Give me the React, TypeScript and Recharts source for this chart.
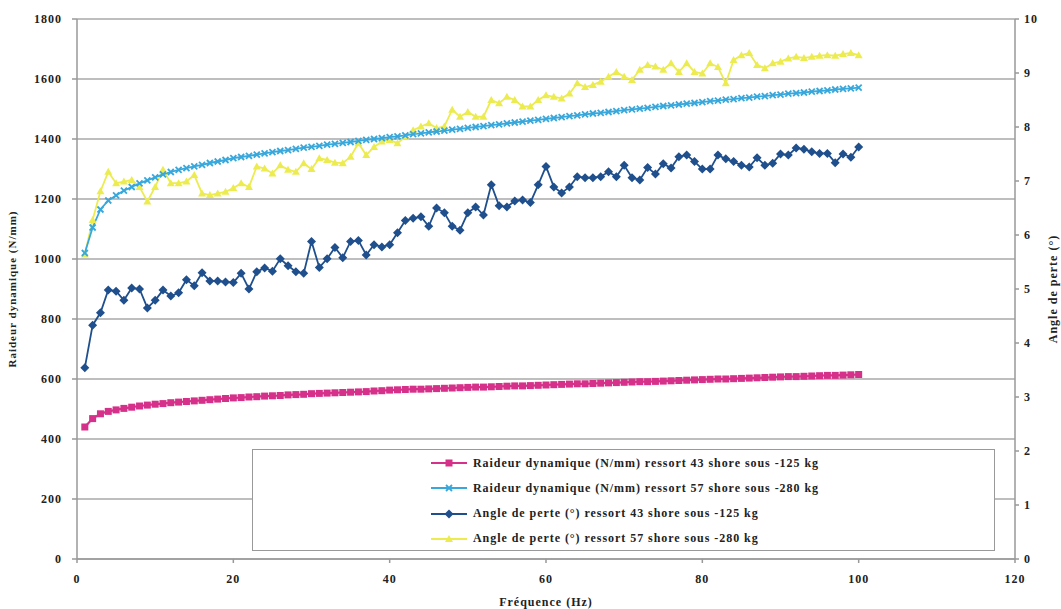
import React from 'react';
import { CartesianGrid, Line, LineChart, XAxis, YAxis } from 'recharts';

// Fréquence (Hz)
const frequencies = [
  1, 2, 3, 4, 5, 6, 7, 8, 9, 10, 11, 12, 13, 14, 15, 16, 17, 18, 19, 20,
  21, 22, 23, 24, 25, 26, 27, 28, 29, 30, 31, 32, 33, 34, 35, 36, 37, 38, 39, 40,
  41, 42, 43, 44, 45, 46, 47, 48, 49, 50, 51, 52, 53, 54, 55, 56, 57, 58, 59, 60,
  61, 62, 63, 64, 65, 66, 67, 68, 69, 70, 71, 72, 73, 74, 75, 76, 77, 78, 79, 80,
  81, 82, 83, 84, 85, 86, 87, 88, 89, 90, 91, 92, 93, 94, 95, 96, 97, 98, 99, 100,
];

// Raideur dynamique (N/mm), ressort 43 shore sous -125 kg
const raideur43 = [
  440, 468, 484, 492, 497, 502, 506, 510, 513, 516, 518, 521, 523, 525, 527, 529, 531, 533, 535, 537,
  538, 540, 541, 543, 544, 545, 547, 548, 549, 551, 552, 553, 554, 555, 556, 557, 558, 560, 561, 563,
  564, 565, 566, 566, 567, 568, 569, 570, 571, 572, 573, 573, 574, 575, 576, 577, 577, 578, 579, 580,
  581, 582, 583, 584, 584, 585, 586, 587, 588, 589, 590, 591, 591, 592, 593, 594, 595, 596, 597, 598,
  599, 600, 600, 601, 602, 603, 604, 605, 606, 607, 608, 608, 609, 610, 611, 612, 612, 613, 614, 615,
];

// Raideur dynamique (N/mm), ressort 57 shore sous -280 kg
const raideur57 = [
  1020, 1105, 1165, 1195, 1212, 1228, 1240, 1252, 1262, 1272, 1282, 1290, 1297, 1303, 1309, 1314, 1320, 1325, 1330, 1336,
  1340, 1344, 1348, 1352, 1356, 1360, 1363, 1367, 1371, 1374, 1377, 1381, 1384, 1387, 1390, 1394, 1397, 1400, 1403, 1406,
  1409, 1412, 1416, 1419, 1422, 1425, 1428, 1431, 1434, 1437, 1440, 1443, 1446, 1449, 1452, 1455, 1458, 1461, 1464, 1467,
  1470, 1473, 1476, 1479, 1482, 1485, 1487, 1490, 1493, 1496, 1499, 1501, 1504, 1507, 1510, 1512, 1515, 1518, 1520, 1523,
  1526, 1528, 1531, 1533, 1536, 1538, 1541, 1543, 1546, 1548, 1551, 1553, 1555, 1558, 1560, 1562, 1565, 1567, 1569, 1571,
];

// Angle de perte (°), ressort 43 shore sous -125 kg
const angle43 = [
  3.54, 4.33, 4.56, 4.98, 4.96, 4.79, 5.02, 5.0, 4.65, 4.79, 4.98, 4.87, 4.93, 5.17, 5.06, 5.3, 5.15, 5.15, 5.13, 5.12,
  5.29, 5.0, 5.32, 5.39, 5.33, 5.56, 5.43, 5.32, 5.29, 5.88, 5.4, 5.56, 5.77, 5.58, 5.88, 5.9, 5.63, 5.82, 5.78, 5.82,
  6.04, 6.27, 6.31, 6.34, 6.16, 6.5, 6.41, 6.16, 6.09, 6.41, 6.52, 6.37, 6.93, 6.54, 6.52, 6.63, 6.65, 6.6, 6.93, 7.27,
  6.89, 6.78, 6.89, 7.08, 7.06, 7.06, 7.08, 7.17, 7.08, 7.29, 7.06, 7.02, 7.25, 7.13, 7.32, 7.24, 7.45, 7.48, 7.36, 7.22,
  7.22, 7.48, 7.41, 7.36, 7.29, 7.26, 7.43, 7.29, 7.33, 7.5, 7.48, 7.61, 7.59, 7.54, 7.51, 7.51, 7.34, 7.5, 7.44, 7.63,
];

// Angle de perte (°), ressort 57 shore sous -280 kg
const angle57 = [
  5.64, 6.28, 6.81, 7.17, 6.96, 6.99, 7.02, 6.89, 6.62, 6.89, 7.21, 6.96, 6.96, 6.99, 7.11, 6.77, 6.74, 6.77, 6.8, 6.87,
  6.96, 6.89, 7.27, 7.23, 7.14, 7.29, 7.21, 7.17, 7.33, 7.22, 7.42, 7.39, 7.34, 7.33, 7.45, 7.7, 7.48, 7.63, 7.73, 7.76,
  7.7, 7.82, 7.94, 8.01, 8.07, 7.98, 8.01, 8.32, 8.19, 8.28, 8.19, 8.19, 8.5, 8.44, 8.56, 8.5, 8.38, 8.38, 8.5, 8.59,
  8.56, 8.53, 8.62, 8.81, 8.74, 8.78, 8.84, 8.93, 9.02, 8.93, 8.87, 9.06, 9.15, 9.12, 9.06, 9.18, 9.02, 9.18, 9.02, 8.99,
  9.18, 9.11, 8.81, 9.24, 9.33, 9.37, 9.15, 9.09, 9.18, 9.21, 9.27, 9.3, 9.28, 9.3, 9.32, 9.33, 9.32, 9.35, 9.37, 9.33,
];

const xTicks = [0, 20, 40, 60, 80, 100, 120];
const leftTicks = [0, 200, 400, 600, 800, 1000, 1200, 1400, 1600, 1800];
const rightTicks = [0, 1, 2, 3, 4, 5, 6, 7, 8, 9, 10];

const legendLabels = [
  'Raideur dynamique (N/mm) ressort 43 shore sous -125 kg',
  'Raideur dynamique (N/mm) ressort 57 shore sous -280 kg',
  'Angle de perte (°) ressort 43 shore sous -125 kg',
  'Angle de perte (°) ressort 57 shore sous -280 kg',
];

const COLORS = {
  pink: '#d6318a',
  cyan: '#38a8dc',
  navy: '#1f4f8c',
  yellow: '#ecec50',
};

const FONT = '"Liberation Serif", "DejaVu Serif", serif';

const data = frequencies.map((f, i) => ({
  f,
  raideur43: raideur43[i],
  raideur57: raideur57[i],
  angle43: angle43[i],
  angle57: angle57[i],
}));

type Shape = 'square' | 'cross' | 'diamond' | 'triangle';

const Marker = ({ shape, cx, cy, color }: { shape: Shape; cx: number; cy: number; color: string }) => {
  if (shape === 'square') {
    return <rect x={cx - 3.5} y={cy - 3.5} width={7} height={7} fill={color} />;
  }
  if (shape === 'cross') {
    return (
      <path
        d={`M${cx - 3},${cy - 3}L${cx + 3},${cy + 3}M${cx - 3},${cy + 3}L${cx + 3},${cy - 3}`}
        stroke={color}
        strokeWidth={1.8}
        fill="none"
      />
    );
  }
  if (shape === 'diamond') {
    return <path d={`M${cx},${cy - 4.5}L${cx + 4.5},${cy}L${cx},${cy + 4.5}L${cx - 4.5},${cy}Z`} fill={color} />;
  }
  return <path d={`M${cx},${cy - 4}L${cx + 4},${cy + 3}L${cx - 4},${cy + 3}Z`} fill={color} />;
};

const makeDot = (shape: Shape, color: string, prefix: string) => (props: any) => {
  const { cx, cy, index } = props;
  if (cx == null || cy == null) return <g key={`${prefix}-${index}`} />;
  return (
    <g key={`${prefix}-${index}`}>
      <Marker shape={shape} cx={cx} cy={cy} color={color} />
    </g>
  );
};

const tickStyle = { fontFamily: FONT, fontWeight: 700, fontSize: 12, fill: '#222', letterSpacing: 1 };

const legendItems: { label: string; shape: Shape; color: string }[] = [
  { label: legendLabels[0], shape: 'square', color: COLORS.pink },
  { label: legendLabels[1], shape: 'cross', color: COLORS.cyan },
  { label: legendLabels[2], shape: 'diamond', color: COLORS.navy },
  { label: legendLabels[3], shape: 'triangle', color: COLORS.yellow },
];

export default function App() {
  return (
    <div style={{ position: 'absolute', left: 0, top: 0, width: 1061, height: 609, background: '#fff' }}>
      <LineChart width={1061} height={609} data={data} margin={{ top: 19, right: 0, bottom: 0, left: 0 }}>
        <CartesianGrid vertical={false} stroke="#a8a8a8" strokeWidth={1.5} yAxisId="left" />
        <XAxis
          dataKey="f"
          type="number"
          domain={[0, 120]}
          ticks={xTicks}
          height={50}
          tickSize={4}
          tickMargin={11}
          stroke="#999"
          strokeWidth={1.5}
          tick={tickStyle}
          label={{
            value: 'Fréquence (Hz)',
            position: 'insideBottom',
            offset: 3,
            style: { ...tickStyle, fontSize: 12 },
          }}
        />
        <YAxis
          yAxisId="left"
          orientation="left"
          domain={[0, 1800]}
          ticks={leftTicks}
          width={77}
          tickSize={5}
          tickMargin={10}
          stroke="#999"
          strokeWidth={1.5}
          tick={tickStyle}
          label={{
            value: 'Raideur dynamique (N/mm)',
            angle: -90,
            position: 'insideLeft',
            offset: 12,
            style: { ...tickStyle, fontSize: 11, textAnchor: 'middle' },
          }}
        />
        <YAxis
          yAxisId="right"
          orientation="right"
          domain={[0, 10]}
          ticks={rightTicks}
          width={46}
          tickSize={4}
          tickMargin={5}
          stroke="#999"
          strokeWidth={1.5}
          tick={tickStyle}
          label={{
            value: 'Angle de perte (°)',
            angle: -90,
            position: 'insideRight',
            offset: 8,
            style: { ...tickStyle, fontSize: 12, textAnchor: 'middle' },
          }}
        />
        <Line
          yAxisId="right"
          dataKey="angle57"
          stroke={COLORS.yellow}
          strokeWidth={1.8}
          dot={makeDot('triangle', COLORS.yellow, 'y')}
          isAnimationActive={false}
          type="linear"
        />
        <Line
          yAxisId="right"
          dataKey="angle43"
          stroke={COLORS.navy}
          strokeWidth={1.8}
          dot={makeDot('diamond', COLORS.navy, 'n')}
          isAnimationActive={false}
          type="linear"
        />
        <Line
          yAxisId="left"
          dataKey="raideur43"
          stroke={COLORS.pink}
          strokeWidth={2.2}
          dot={makeDot('square', COLORS.pink, 'p')}
          isAnimationActive={false}
          type="linear"
        />
        <Line
          yAxisId="left"
          dataKey="raideur57"
          stroke={COLORS.cyan}
          strokeWidth={1.8}
          dot={makeDot('cross', COLORS.cyan, 'c')}
          isAnimationActive={false}
          type="linear"
        />
      </LineChart>
      <div
        style={{
          position: 'absolute',
          left: 252,
          top: 449,
          width: 741,
          height: 100,
          border: '1.5px solid #999',
          background: '#fff',
        }}
      >
        {legendItems.map((item, i) => (
          <div
            key={item.label}
            style={{
              position: 'absolute',
              left: 176,
              top: 4 + i * 25.3,
              height: 18,
              display: 'flex',
              alignItems: 'center',
              whiteSpace: 'nowrap',
            }}
          >
            <svg width={40} height={18} style={{ marginRight: 4 }}>
              <line x1={2} y1={9} x2={38} y2={9} stroke={item.color} strokeWidth={1.8} />
              <Marker shape={item.shape} cx={20} cy={9} color={item.color} />
            </svg>
            <span
              style={{
                fontFamily: FONT,
                fontWeight: 700,
                fontSize: 12,
                letterSpacing: 0.95,
                color: '#222',
              }}
            >
              {item.label}
            </span>
          </div>
        ))}
      </div>
    </div>
  );
}
